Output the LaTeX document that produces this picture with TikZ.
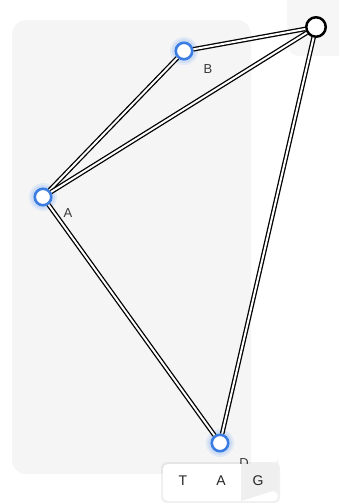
\documentclass[tikz,border=0pt]{standalone}
\usepackage{fontspec}
\setmainfont{Liberation Sans}
\usetikzlibrary{positioning,calc}
\definecolor{panelgrey}{HTML}{F5F5F5}
\definecolor{cornergrey}{HTML}{F6F6F6}
\definecolor{cellgrey}{HTML}{EFEFEF}
\definecolor{pinblue}{HTML}{3C7DE4}
\definecolor{glowblue}{HTML}{A9C8F6}
\definecolor{labelgrey}{HTML}{3A3A3A}

\begin{document}
\begin{tikzpicture}[
  x=1pt,y=-1pt,
  pin/.style={circle,draw=pinblue,fill=white,line width=2.6pt,minimum size=16.5pt,inner sep=0pt},
  hub/.style={circle,draw=black,fill=white,line width=2.5pt,minimum size=19.5pt,inner sep=0pt},
  link/.style={draw=black,double=white,double distance=2pt,line width=1.3pt},
  tag/.style={font=\fontsize{13}{13}\selectfont,text=labelgrey,inner sep=0pt},
  tool/.style={font=\fontsize{14}{14}\selectfont,text=black!85,inner sep=0pt}
]
\useasboundingbox (0,0) rectangle (339,503);
% panels
\fill[panelgrey,rounded corners=14pt] (12,20) rectangle (251,474);
\fill[cornergrey,rounded corners=12pt] (287,-14) rectangle (352,56);
% glow round the pins
\foreach \p in {(184,51),(43,197),(220,443)}{
  \fill[glowblue,opacity=.25] \p circle (14);
  \fill[glowblue,opacity=.35] \p circle (12);}
\node[pin] (b) at (184,51) {};
\node[pin] (a) at (43,197) {};
\node[pin] (d) at (220,443) {};
\node[hub] (h) at (316,27) {};
\draw[link] (b) -- (h);
\draw[link] (a) -- (b);
\draw[link] (a) -- (h);
\draw[link] (a) -- (d);
\draw[link] (d) -- (h);
\node[tag] (lb) at (208,69) {B};
\node[tag] (la) at (68,213) {A};
\node[tag] (ld) at (244,463) {D};
% toolbar
\fill[black,opacity=.06,rounded corners=6pt] (161,462) rectangle (280,503);
\fill[white,rounded corners=5pt] (163,464) rectangle (278,501);
\fill[cellgrey] (241,464) -- (273,464) arc (90:0:5) -- (278,496) arc (0:-90:5) -- (241,501) -- cycle;
\node[tool] (t) at (183,481) {T};
\node[tool] (ta) at (221,481) {A};
\node[tool] (tg) at (258,481) {G};
\end{tikzpicture}
\end{document}
